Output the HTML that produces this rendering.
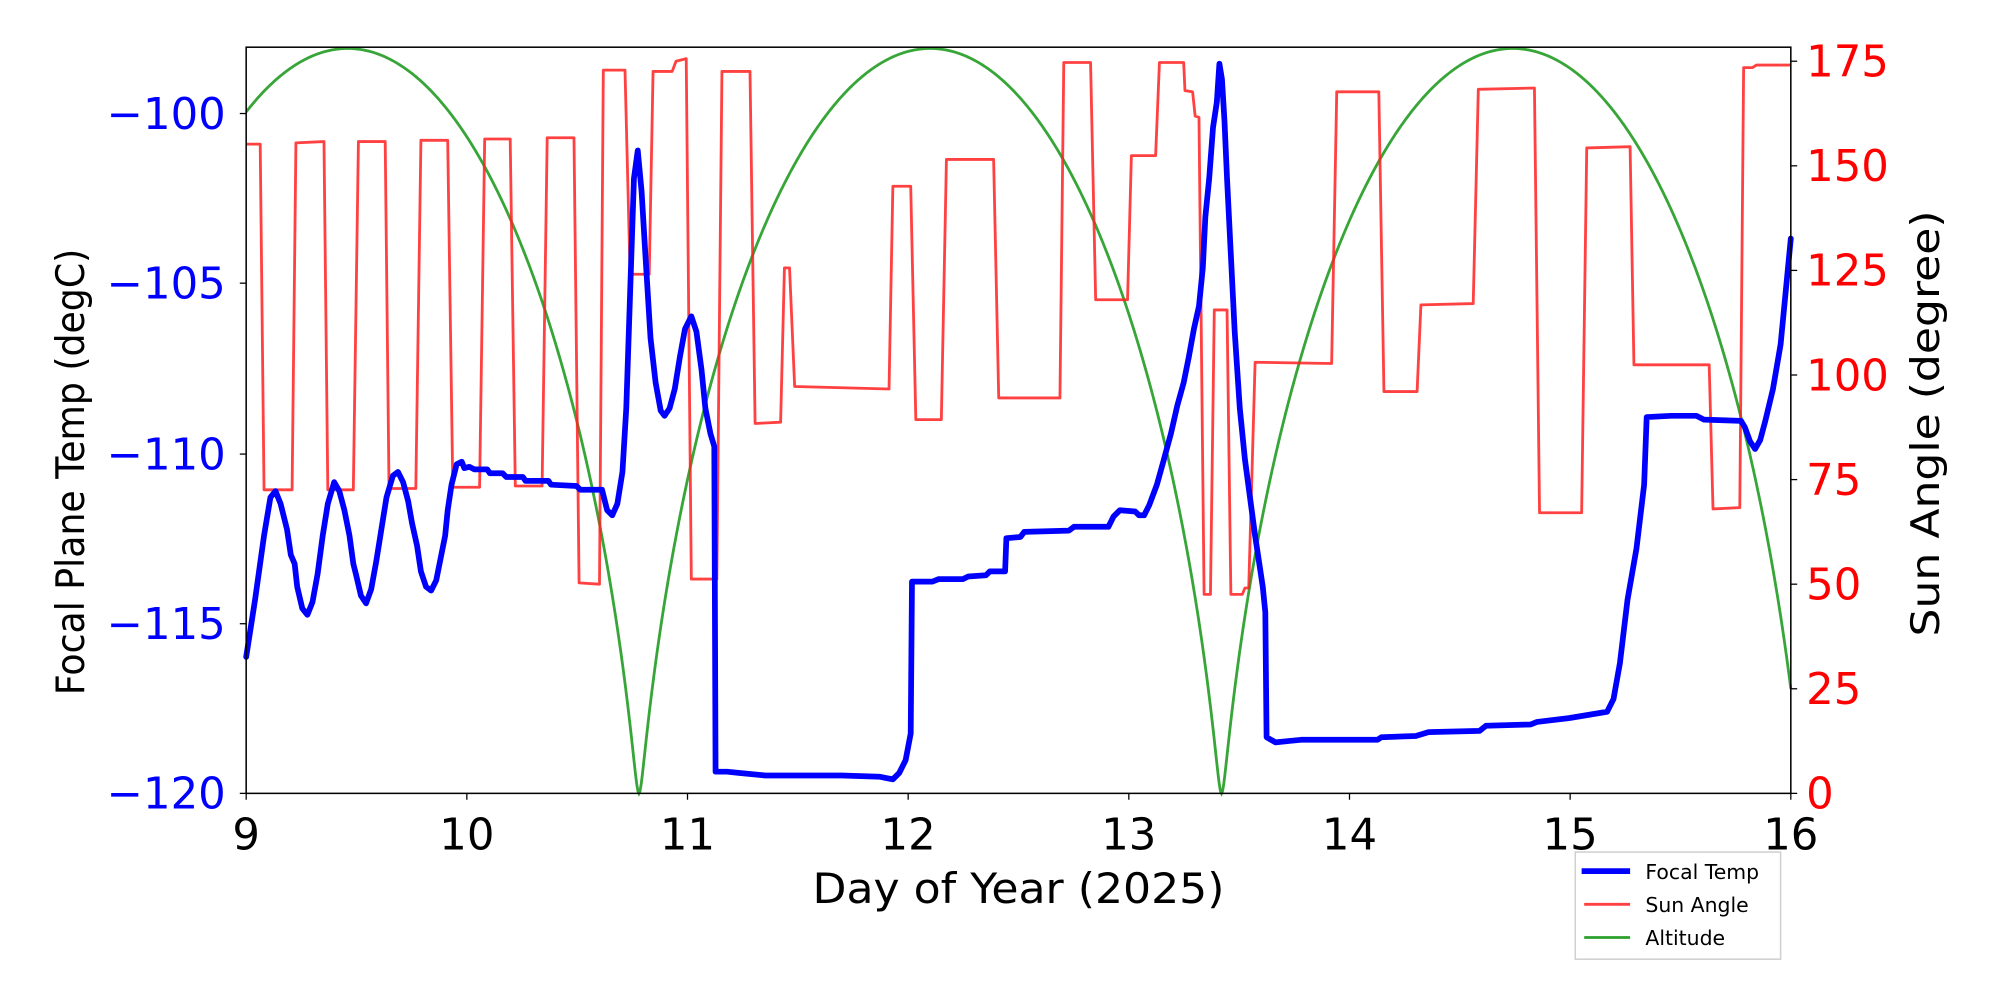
<!DOCTYPE html>
<html><head><meta charset="utf-8"><style>html,body{margin:0;padding:0;background:#fff}svg{display:block}text{font-family:"DejaVu Sans","Liberation Sans",sans-serif}</style></head>
<body>
<svg id="s" width="2000" height="1000" viewBox="0 0 1568 784" xmlns="http://www.w3.org/2000/svg">
<rect x="0" y="0" width="1568" height="784" fill="#fff"/>
<g id="plot">
<path id="green" fill="none" stroke="#2ca02c" stroke-opacity="0.95" stroke-width="2.2"/>
<path fill="none" stroke="#ff2020" stroke-opacity="0.85" stroke-width="2.2" stroke-linejoin="round" d="M193,113 L204,113 L207,384 L229,384 L232,112 L254,111 L257,384 L277,384 L281,111 L302,111 L305,383 L326,383 L330,110 L351,110 L355,382 L376,382 L380,109 L400,109 L404,381 L425,381 L429,108 L450,108 L454,457 L470,458 L473,55 L490,55 L494,215 L509,215 L512,56 L527,56 L530,48 L538,46 L542,454 L562,454 L566,56 L588,56 L592,332 L612,331 L615,210 L619,210 L623,303 L697,305 L700,146 L714,146 L718,329 L738,329 L742,125 L779,125 L783,312 L831,312 L834,49 L855,49 L859,235 L884,235 L887,122 L906,122 L909,49 L928,49 L929,71 L935,72 L937,91 L940,92 L944,466 L949,466 L952,243 L962,243 L965,466 L974,466 L976,461 L979,461 L984,284 L1044,285 L1048,72 L1081,72 L1085,307 L1111,307 L1114,239 L1155,238 L1159,70 L1203,69 L1207,402 L1240,402 L1244,116 L1278,115 L1281,286 L1340,286 L1343,399 L1364,398 L1367,53 L1374,53 L1377,51 L1404,51"/>
<path fill="none" stroke="#0000ff" stroke-width="4.5" stroke-linejoin="round" stroke-linecap="round" d="M193,515 L200,470 L207,420 L212,390 L216,385 L220,395 L225,415 L228,435 L231,442 L233,460 L237,477 L241,482 L245,472 L249,450 L253,420 L257,395 L262,378 L266,385 L270,400 L274,420 L277,442 L279,450 L283,467 L287,473 L291,462 L295,440 L299,415 L303,390 L308,373 L312,370 L316,378 L320,393 L323,410 L327,428 L330,448 L334,460 L338,463 L342,455 L346,435 L349,420 L351,400 L354,380 L358,364 L362,362 L364,367 L368,366 L372,368 L382,368 L384,371 L394,371 L397,374 L410,374 L412,377 L430,377 L432,380 L452,381 L455,384 L472,384 L476,400 L480,404 L484,395 L488,370 L491,320 L494,230 L497,140 L500,118 L503,150 L506,200 L510,265 L514,300 L518,322 L521,326 L525,320 L529,305 L533,280 L537,258 L542,248 L546,260 L550,290 L553,320 L557,340 L560,350 L561,605 L570,605 L580,606 L600,608 L660,608 L690,609 L700,611 L705,606 L710,596 L714,575 L715,456 L731,456 L736,454 L755,454 L759,452 L773,451 L776,448 L788,448 L789,422 L800,421 L803,417 L838,416 L842,413 L869,413 L873,405 L878,400 L890,401 L893,404 L897,404 L901,396 L907,380 L912,362 L918,340 L923,318 L928,300 L932,280 L936,258 L940,240 L943,210 L945,170 L948,140 L951,100 L954,80 L956,50 L958,62 L960,95 L962,140 L965,200 L968,260 L972,320 L976,360 L980,390 L984,420 L987,440 L990,460 L992,480 L993,578 L1000,582 L1010,581 L1020,580 L1080,580 L1083,578 L1110,577 L1120,574 L1160,573 L1165,569 L1200,568 L1205,566 L1230,563 L1260,558 L1265,548 L1270,520 L1276,470 L1283,430 L1289,380 L1291,327 L1310,326 L1330,326 L1336,329 L1365,330 L1368,335 L1372,346 L1376,352 L1380,345 L1384,330 L1390,305 L1396,270 L1404,187"/>
</g>
<rect x="193" y="37" width="1211" height="585" fill="none" stroke="#000" stroke-width="1.2"/>
<g stroke="#000" stroke-width="1">
<line x1="193" y1="622" x2="193" y2="627"/><line x1="366" y1="622" x2="366" y2="627"/><line x1="539" y1="622" x2="539" y2="627"/><line x1="712" y1="622" x2="712" y2="627"/><line x1="885" y1="622" x2="885" y2="627"/><line x1="1058" y1="622" x2="1058" y2="627"/><line x1="1231" y1="622" x2="1231" y2="627"/><line x1="1404" y1="622" x2="1404" y2="627"/>
<line x1="188" y1="89" x2="193" y2="89"/><line x1="188" y1="222" x2="193" y2="222"/><line x1="188" y1="356" x2="193" y2="356"/><line x1="188" y1="489" x2="193" y2="489"/><line x1="188" y1="622" x2="193" y2="622"/>
<line x1="1404" y1="48" x2="1409" y2="48"/><line x1="1404" y1="130" x2="1409" y2="130"/><line x1="1404" y1="212" x2="1409" y2="212"/><line x1="1404" y1="294" x2="1409" y2="294"/><line x1="1404" y1="376" x2="1409" y2="376"/><line x1="1404" y1="458" x2="1409" y2="458"/><line x1="1404" y1="540" x2="1409" y2="540"/><line x1="1404" y1="622" x2="1409" y2="622"/>
</g>
<g font-size="34" fill="#000" text-anchor="middle">
<text x="193" y="666">9</text><text x="366" y="666">10</text><text x="539" y="666">11</text><text x="712" y="666">12</text><text x="885" y="666">13</text><text x="1058" y="666">14</text><text x="1231" y="666">15</text><text x="1404" y="666">16</text>
</g>
<text x="637" y="708" font-size="33" fill="#000" textLength="323" lengthAdjust="spacingAndGlyphs">Day of Year (2025)</text>
<g font-size="34" fill="#0000ff" text-anchor="end">
<text x="177" y="101">−100</text><text x="177" y="234">−105</text><text x="177" y="368">−110</text><text x="177" y="501">−115</text><text x="177" y="634">−120</text>
</g>
<g font-size="34" fill="#ff0000" text-anchor="start">
<text x="1416" y="60">175</text><text x="1416" y="142">150</text><text x="1416" y="224">125</text><text x="1416" y="306">100</text><text x="1416" y="388">75</text><text x="1416" y="470">50</text><text x="1416" y="552">25</text><text x="1416" y="634">0</text>
</g>
<text font-size="31" fill="#000" transform="translate(66,545) rotate(-90)" textLength="350" lengthAdjust="spacingAndGlyphs">Focal Plane Temp (degC)</text>
<text font-size="31" fill="#000" transform="translate(1520,499) rotate(-90)" textLength="334" lengthAdjust="spacingAndGlyphs">Sun Angle (degree)</text>
<rect x="1235" y="668" width="161" height="84" fill="#fff" stroke="#d0d0d0" stroke-width="1.2"/>
<line x1="1240" y1="683" x2="1278" y2="683" stroke="#0000ff" stroke-width="4.5"/>
<line x1="1242" y1="709" x2="1278" y2="709" stroke="#ff2020" stroke-opacity="0.85" stroke-width="2.2"/>
<line x1="1242" y1="735" x2="1278" y2="735" stroke="#2ca02c" stroke-width="2.2"/>
<g font-size="16" fill="#000"><text x="1290" y="689">Focal Temp</text><text x="1290" y="715">Sun Angle</text><text x="1290" y="741">Altitude</text></g>
</svg>
<script>
(function(){var e=0.9,P=2.64,tp=10.78,d="";
for(var i=0;i<=1400;i++){var t=9+7*i/1400;var M=2*Math.PI*(t-tp)/P;var E=M;
for(var k=0;k<60;k++){E=E-(E-e*Math.sin(E)-M)/(1-e*Math.cos(E));}
var f=(1-Math.cos(E))/2;var x=193+173*(t-9);var y=622-584*f;
d+=(i?"L":"M")+x.toFixed(2)+","+y.toFixed(2)+" ";}
document.getElementById("green").setAttribute("d",d);})();
</script>
</body></html>
